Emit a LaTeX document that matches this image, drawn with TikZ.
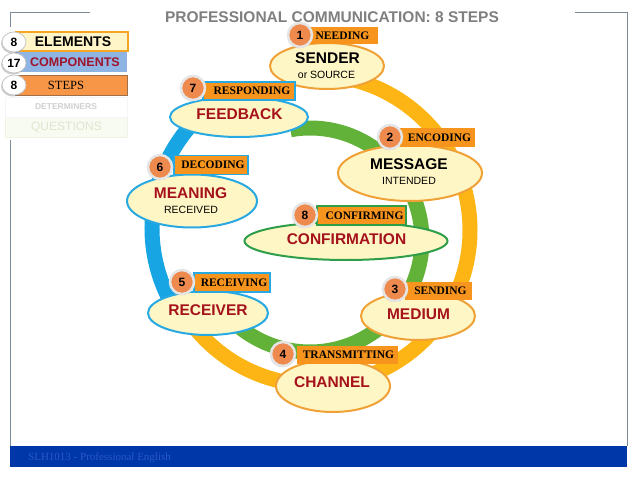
\documentclass[tikz,border=0pt]{standalone}
\usepackage{fontspec}
\setmainfont{Liberation Sans}
\newfontfamily\tms{Liberation Serif}
\usetikzlibrary{shapes.geometric,shadows}
\definecolor{ringor}{HTML}{FDB515}
\definecolor{ringgr}{HTML}{62B23A}
\definecolor{ringbl}{HTML}{17A5E3}
\definecolor{elor}{HTML}{F0A136}
\definecolor{elbl}{HTML}{29A9E1}
\definecolor{elgr}{HTML}{2E9E48}
\definecolor{cream}{HTML}{FFF6C6}
\definecolor{labor}{HTML}{F7941D}
\definecolor{badgeor}{HTML}{EE8A4E}
\definecolor{dred}{HTML}{A5121B}
\definecolor{titlegr}{HTML}{7F7F7F}
\definecolor{framec}{HTML}{7B8C98}
\definecolor{bandc}{HTML}{0037A8}
\definecolor{bandtxt}{HTML}{2A57C6}
\definecolor{elemfill}{HTML}{FFF5C8}
\definecolor{elemdraw}{HTML}{F5A623}
\definecolor{compfill}{HTML}{8EB4E3}
\definecolor{compred}{HTML}{A0142C}
\definecolor{stepfill}{HTML}{F79646}
\definecolor{stepdraw}{HTML}{A0704A}
\definecolor{detgr}{HTML}{D0D0D0}
\definecolor{qfill}{HTML}{F8FBF1}
\definecolor{qdraw}{HTML}{EEF3E4}
\definecolor{qtxt}{HTML}{DDE6D0}
\tikzset{
  ring/.style={line width=15pt},
  ell/.style={ellipse, fill=cream, line width=2pt, inner sep=0pt},
  lab/.style={rectangle, fill=labor, inner sep=0pt, font=\tms\bfseries\fontsize{11.5}{12}\selectfont, text=black},
  badgec/.style={circle, fill=badgeor, draw=gray!20, line width=2.5pt, minimum size=24pt, inner sep=0pt,
    font=\bfseries\fontsize{12}{12}\selectfont, drop shadow={opacity=0.35, shadow xshift=-0.8pt, shadow yshift=-1.2pt}},
  leftbadge/.style={ellipse, fill=white, draw=gray!45, line width=0.8pt, minimum width=24pt, minimum height=20pt, inner sep=0pt,
    font=\bfseries\fontsize{12}{12}\selectfont, drop shadow={opacity=0.4, shadow xshift=-1pt, shadow yshift=-1.5pt}},
  bigtxt/.style={font=\bfseries\fontsize{15.5}{16}\selectfont},
  smalltxt/.style={font=\fontsize{10.5}{11}\selectfont},
  panelbox/.style={rectangle, inner sep=0pt, minimum height=20pt},
  frameline/.style={draw=framec, line width=1pt},
}
\begin{document}
\begin{tikzpicture}[x=1pt,y=-1pt]
\useasboundingbox (0,0) rectangle (638,479);
% frame
\draw[frameline] (10,27) -- (10,12) -- (90,12);
\draw[frameline] (10,140) -- (10,446);
\draw[frameline] (575,12) -- (627,12) -- (627,446);
\fill[bandc] (10,446) rectangle (627,467);
\node[anchor=west, inner sep=0pt, text=bandtxt, font=\tms\fontsize{11}{12}\selectfont] (footer) at (28,457.5) {SLH1013 - Professional English};
% title
\node[text=titlegr, font=\bfseries\fontsize{15.5}{16}\selectfont] (title) at (332,17) {PROFESSIONAL COMMUNICATION: 8 STEPS};
% rings
\coordinate (oc) at (315,230);
\coordinate (bc) at (307,228);
\coordinate (gc) at (310,240);
\draw[ring, ringor] (oc) ++(95:155pt) arc[start angle=95, end angle=-140, radius=155pt];
\draw[ring, ringbl] (bc) ++(130:155pt) arc[start angle=130, end angle=210, radius=155pt];
\draw[ring, ringgr] (gc) ++(100:112pt) arc[start angle=100, end angle=-140, radius=112pt];
% ellipses
\node[ell, draw=elor, minimum width=114pt, minimum height=46pt] (sender) at (327,66) {};
\node[bigtxt] (sendert) at (327.5,58) {SENDER};
\node[smalltxt] (senders) at (326.5,74.5) {or SOURCE};
\node[ell, draw=elbl, minimum width=138pt, minimum height=40pt] (feedback) at (239,117) {};
\node[bigtxt, text=dred] (feedbackt) at (239.5,114.5) {FEEDBACK};
\node[ell, draw=elor, minimum width=144pt, minimum height=56pt] (message) at (410,173) {};
\node[bigtxt] (messaget) at (409,164) {MESSAGE};
\node[smalltxt] (messages) at (409,180.5) {INTENDED};
\node[ell, draw=elbl, minimum width=130pt, minimum height=53pt] (meaning) at (192,201) {};
\node[bigtxt, text=dred] (meaningt) at (190.5,193) {MEANING};
\node[smalltxt] (meanings) at (191,209.5) {RECEIVED};
\node[ell, draw=elgr, minimum width=203pt, minimum height=38pt] (confirm) at (346,241) {};
\node[bigtxt, text=dred] (confirmt) at (346.5,239) {CONFIRMATION};
\node[ell, draw=elbl, minimum width=120pt, minimum height=44pt] (receiver) at (208,313) {};
\node[bigtxt, text=dred] (receivert) at (208,310) {RECEIVER};
\node[ell, draw=elor, minimum width=114pt, minimum height=48pt] (medium) at (418,316) {};
\node[bigtxt, text=dred] (mediumt) at (418.5,314) {MEDIUM};
\node[ell, draw=elor, minimum width=114pt, minimum height=52pt] (channel) at (333,386) {};
\node[bigtxt, text=dred] (channelt) at (332,382.5) {CHANNEL};
% label boxes
\node[lab, minimum width=71pt, minimum height=17pt] (l1) at (342.5,35.5) {NEEDING};
\node[lab, draw=elbl, line width=1.2pt, minimum width=92pt, minimum height=18pt] (l7) at (249,91) {\hspace*{6pt}RESPONDING};
\node[lab, minimum width=75pt, minimum height=19pt] (l2) at (437.5,137.5) {\hspace*{4pt}ENCODING};
\node[lab, draw=elbl, line width=1.2pt, minimum width=74pt, minimum height=19pt] (l6) at (211,165) {\hspace*{4pt}DECODING};
\node[lab, draw=elgr, line width=1.2pt, minimum width=89pt, minimum height=19pt] (l8) at (361.5,215.5) {\hspace*{6pt}CONFIRMING};
\node[lab, draw=elbl, line width=1.2pt, minimum width=76pt, minimum height=19pt] (l5) at (232,282.5) {\hspace*{4pt}RECEIVING};
\node[lab, minimum width=67pt, minimum height=18pt] (l3) at (438.5,291) {\hspace*{4pt}SENDING};
\node[lab, minimum width=101pt, minimum height=18pt] (l4) at (347.5,354.5) {\hspace*{2pt}TRANSMITTING};
% badges
\node[badgec] (b1) at (300,35) {1};
\node[badgec] (b7) at (193,88) {7};
\node[badgec] (b2) at (390,137) {2};
\node[badgec] (b6) at (160,167) {6};
\node[badgec] (b8) at (305,215) {8};
\node[badgec] (b5) at (182,282) {5};
\node[badgec] (b3) at (395,289) {3};
\node[badgec] (b4) at (283,354) {4};
% left panel
\node[panelbox, fill=qfill, draw=qdraw, line width=0.6pt, minimum width=122pt] (qbox) at (66,127) {};
\node[text=qtxt, font=\fontsize{12}{12}\selectfont] (qtext) at (66.5,127) {QUESTIONS};
\node[panelbox, fill=white, draw=gray!8, line width=0.6pt, minimum width=122pt] (dbox) at (66,107) {};
\node[text=detgr, font=\bfseries\fontsize{8.5}{9}\selectfont] (dtext) at (66,107) {DETERMINERS};
\node[panelbox, fill=stepfill, draw=stepdraw, line width=0.8pt, minimum width=112pt] (sbox) at (71,85) {};
\node[font=\tms\fontsize{12.5}{13}\selectfont] (stext) at (66,85) {STEPS};
\node[panelbox, fill=compfill, minimum width=112pt] (cbox) at (71,62) {};
\node[text=compred, font=\bfseries\fontsize{12.5}{13}\selectfont] (ctext) at (75,62.5) {COMPONENTS};
\node[panelbox, fill=elemfill, draw=elemdraw, line width=2pt, minimum width=112pt, minimum height=19pt] (ebox) at (71.5,41) {};
\node[font=\bfseries\fontsize{14}{14}\selectfont] (etext) at (73,41.5) {ELEMENTS};
\node[leftbadge] (lb1) at (14,42) {8};
\node[leftbadge] (lb2) at (14,63) {17};
\node[leftbadge] (lb3) at (14,85) {8};
\end{tikzpicture}
\end{document}
